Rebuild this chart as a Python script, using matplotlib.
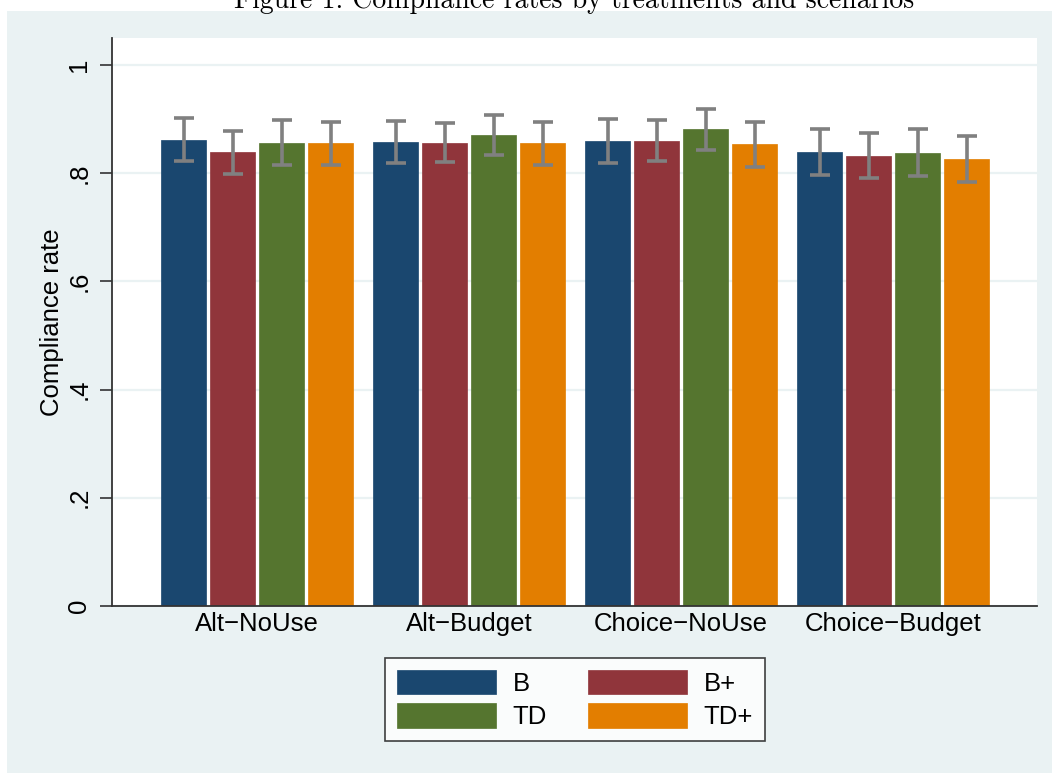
import matplotlib
matplotlib.use("Agg")
import matplotlib.pyplot as plt
import numpy as np
from matplotlib.patches import Rectangle

# ---- data ----
scenarios = ["Alt\u2212NoUse", "Alt\u2212Budget", "Choice\u2212NoUse", "Choice\u2212Budget"]
treatments = ["B", "B+", "TD", "TD+"]
rate_B   = [0.862, 0.858, 0.860, 0.839]
rate_Bp  = [0.839, 0.856, 0.860, 0.832]
rate_TD  = [0.856, 0.871, 0.882, 0.837]
rate_TDp = [0.855, 0.855, 0.854, 0.826]
lo_B   = [0.823, 0.819, 0.819, 0.797]
hi_B   = [0.902, 0.896, 0.900, 0.881]
lo_Bp  = [0.798, 0.820, 0.822, 0.791]
hi_Bp  = [0.879, 0.893, 0.898, 0.874]
lo_TD  = [0.816, 0.834, 0.843, 0.794]
hi_TD  = [0.898, 0.908, 0.919, 0.881]
lo_TDp = [0.816, 0.815, 0.812, 0.784]
hi_TDp = [0.894, 0.895, 0.894, 0.868]
yticks = [0, 0.2, 0.4, 0.6, 0.8, 1.0]
yticklabels = ["0", ".2", ".4", ".6", ".8", "1"]

rates = [rate_B, rate_Bp, rate_TD, rate_TDp]
los = [lo_B, lo_Bp, lo_TD, lo_TDp]
his = [hi_B, hi_Bp, hi_TD, hi_TDp]
colors = ["#1A476F", "#90353B", "#55752F", "#E37E00"]

W, H = 1052, 773
fig = plt.figure(figsize=(W / 100, H / 100), dpi=100)
fig.patch.set_facecolor("white")
bg = "#EAF2F3"
fig.patches.append(Rectangle((7 / W, 0), 1 - 7 / W, 1 - 11 / H,
                             transform=fig.transFigure, facecolor=bg,
                             edgecolor="none", zorder=-10))

sans = ["Liberation Sans", "DejaVu Sans"]
fs = 18.5

ax = fig.add_axes([112 / W, (H - 606) / H, (1037 - 112) / W, (606 - 38) / H])
ax.set_facecolor("white")
x = np.arange(len(scenarios))
step = 0.231
width = 0.212
for i, t in enumerate(treatments):
    xs = x + (i - 1.5) * step
    r = np.array(rates[i])
    ax.bar(xs, r, width=width, color=colors[i], edgecolor=colors[i],
           linewidth=0.5, label=t, zorder=2)
    yerr = np.vstack([r - np.array(los[i]), np.array(his[i]) - r])
    ax.errorbar(xs, r, yerr=yerr, fmt="none", ecolor="#808080",
                elinewidth=2.6, capsize=7, capthick=2.6, zorder=3)

ax.set_xlim(-0.684, 3.678)
ax.set_ylim(0, 1.05)
ax.set_yticks(yticks)
ax.set_yticklabels(yticklabels, rotation=90, va="center", fontsize=fs, family=sans)
ax.set_xticks(x)
ax.set_xticklabels(scenarios, fontsize=fs, family=sans)
ax.tick_params(axis="x", length=0, pad=4)
ax.tick_params(axis="y", length=9, width=1.2, color="#333333", pad=6)
ax.yaxis.grid(True, color=bg, linewidth=1.6, zorder=0)
ax.set_axisbelow(True)
for s in ["top", "right"]:
    ax.spines[s].set_visible(False)
for s in ["left", "bottom"]:
    ax.spines[s].set_color("#333333")
    ax.spines[s].set_linewidth(1.3)
ax.set_ylabel("Compliance rate", fontsize=fs, family=sans, labelpad=2)

handles, labels = ax.get_legend_handles_labels()
order = [0, 2, 1, 3]
leg = fig.legend([handles[k] for k in order], [labels[k] for k in order],
                 ncol=2, loc="center",
                 bbox_to_anchor=((385 + 765) / 2 / W, 1 - (657 + 742) / 2 / H),
                 prop={"family": sans, "size": fs}, frameon=True, fancybox=False,
                 edgecolor="#111111", handlelength=3.85, handleheight=1.1,
                 handletextpad=0.65, columnspacing=1.6, borderpad=0.45,
                 labelspacing=0.3)
leg.get_frame().set_linewidth(1.2)

fig.text(574 / W, 1 - 8 / H, "Figure 1: Compliance rates by treatments and scenarios",
         ha="center", va="baseline", fontsize=20, family=["cmr10", "DejaVu Serif"])

fig.savefig("out.png", dpi=100, facecolor="white")
